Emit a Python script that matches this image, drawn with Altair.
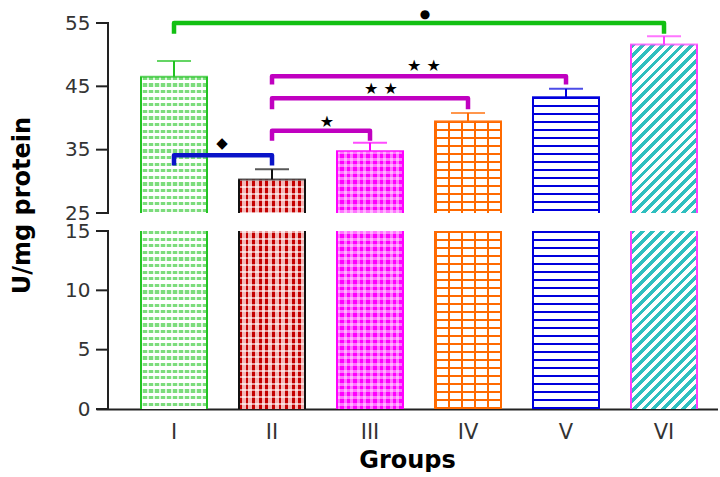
import math
import altair as alt
import pandas as pd

# ---- data -------------------------------------------------------------
groups = ["I", "II", "III", "IV", "V", "VI"]
means = [46.5, 30.3, 34.8, 39.5, 43.3, 51.6]
sds = [2.5, 1.6, 1.3, 1.3, 1.3, 1.3]

up_ticks = [25, 35, 45, 55]
lo_ticks = [0, 5, 10, 15]

# significance brackets between groups
br_from = ["I", "I", "II", "II", "II"]
br_to = ["VI", "II", "III", "IV", "V"]
br_level = [55.0, 34.1, 38.0, 43.1, 46.6]
br_leg = [53.3, 32.5, 36.4, 41.4, 45.3]
br_mark = ["●", "◆", "★", "★  ★", "★  ★"]
br_mark_y = [56.4, 36.0, 39.3, 44.6, 48.2]

# ---- styles -----------------------------------------------------------
stroke_colors = ["#22c322", "#111111", "#ff00ff", "#ff6a00", "#0000dd", "#ff3cff"]
bracket_colors = ["#12c012", "#0a14c8", "#c000c0", "#c000c0", "#c000c0"]
mark_sizes = [12, 15, 16, 16, 16]
mark_dx = [6, -1, 6, 11, 5]
AXIS_COLOR = "#222"

CLEAR = "rgba(255,255,255,0)"
# hatch layers per bar: (direction, line colour, gap colour, period px, line px)
patterns = [
    [("h", "#7cdc7c", "#ffffff", 6.6, 3.2), ("v", "rgba(255,255,255,0.75)", CLEAR, 6.0, 1.8)],
    [("v", "#c40000", "#f3b6b6", 6.6, 2.8), ("h", "rgba(255,255,255,0.6)", CLEAR, 6.6, 2.0)],
    [("h", "#ff00ff", "#ff00ff", 6.6, 3.3), ("v", "rgba(255,255,255,0.45)", CLEAR, 6.6, 3.0),
     ("h", "rgba(255,255,255,0.45)", CLEAR, 6.6, 3.0)],
    [("h", "#ff6a00", "#ffffff", 8.0, 2.0), ("v", "#ff6a00", CLEAR, 13.0, 2.0)],
    [("h", "#0000dd", "#ffffff", 8.0, 2.0)],
    [("d", "#2fbfbf", "#ffffff", 7.0, 3.4)],
]

FONT = "DejaVu Sans"
W_PLOT, H_UP, H_LO = 622, 190, 178
UP_MIN, UP_MAX, LO_MAX = 25, 55, 15
P_IN, P_OUT, ALIGN = 0.3265, 0.3367, 0.682
TICK_LEN = 12          # ticks run from the panel edge to the axis line

step = W_PLOT / (len(groups) - P_IN + 2 * P_OUT)
bandwidth = step * (1 - P_IN)

x_scale = alt.Scale(domain=groups, paddingInner=P_IN, paddingOuter=P_OUT, align=ALIGN)
up_scale = alt.Scale(domain=[UP_MIN, UP_MAX], nice=False, zero=False)
lo_scale = alt.Scale(domain=[0, LO_MAX], nice=False)

# the y axes supply only labels and title; the axis line and ticks are drawn as marks
AX = dict(domain=False, ticks=False, tickSize=0, labelFont=FONT, labelFontSize=20,
          labelColor="#333", labelPadding=6, grid=False)

up_axis = alt.Axis(values=up_ticks, title="U/mg protein", titleAngle=270,
                   titleX=-67, titleY=182, titleAlign="center", titleBaseline="alphabetic",
                   titleFont=FONT, titleFontSize=24, titleFontWeight="bold", titleColor="#000", **AX)
lo_axis = alt.Axis(values=lo_ticks, title=None, **AX)
lo_x_axis = alt.Axis(labelAngle=0, domain=True, ticks=False, domainColor=AXIS_COLOR, domainWidth=2,
                     labelFont=FONT, labelFontSize=21, labelColor="#333", labelPadding=12,
                     title="Groups", titleFont=FONT, titleFontSize=24, titleFontWeight="bold",
                     titlePadding=6, titleColor="#000", grid=False)


def band_stops(color, gap, period, thick, length):
    stops = []
    pos = 0.0
    while pos < length:
        a = pos / length
        b = min(pos + thick, length) / length
        c = min(pos + period, length) / length
        for off, col in ((a, color), (b, color), (b, gap), (c, gap)):
            stops.append(alt.GradientStop(offset=round(off, 5), color=col))
        pos += period
    return stops


def pattern_fill(kind, color, gap, period, thick, w, h):
    if kind == "h":
        return alt.LinearGradient(gradient="linear", stops=band_stops(color, gap, period, thick, h),
                                  x1=0, y1=0, x2=0, y2=1)
    if kind == "v":
        return alt.LinearGradient(gradient="linear", stops=band_stops(color, gap, period, thick, w),
                                  x1=0, y1=0, x2=1, y2=0)
    # diagonal "/" hatching at 45 degrees
    length = (w * w + h * h) / (w * math.sqrt(2))
    return alt.LinearGradient(gradient="linear", stops=band_stops(color, gap, period, thick, length),
                              x1=0, y1=0, x2=1, y2=round(h / w, 5))


def bar_layers(i, y_scale, base, cap, ppu, y_axis, x_axis, top_edge):
    """Hatched bar segment between the panel floor and min(mean, panel ceiling).

    The outline is drawn as side rules (plus a cap on the real top) so the segment
    stays open where the axis is broken.
    """
    top = min(means[i], cap)
    df = pd.DataFrame({"group": [groups[i]], "mean": [means[i]], "top": [top]})
    h = (top - base) * ppu
    layers = []
    first = True
    for kind, col, gap, period, thick in patterns[i]:
        enc = dict(
            x=alt.X("group:N", scale=x_scale, axis=x_axis if first else None),
            y=alt.Y("top:Q", scale=y_scale, axis=y_axis if first else None),
            y2=alt.datum(base),
        )
        first = False
        fill = pattern_fill(kind, col, gap, period, thick, bandwidth, h)
        layers.append(alt.Chart(df).mark_bar(fill=fill, strokeWidth=0).encode(**enc))
    for side in (0, 1):
        layers.append(alt.Chart(df).mark_rule(color=stroke_colors[i], strokeWidth=2).encode(
            x=alt.X("group:N", scale=x_scale, axis=None, bandPosition=side),
            y=alt.Y("top:Q", scale=y_scale, axis=None), y2=alt.datum(base)))
    if top_edge:
        layers.append(alt.Chart(df).mark_tick(color=stroke_colors[i], size=bandwidth + 2,
                                              thickness=2).encode(
            x=alt.X("group:N", scale=x_scale, axis=None),
            y=alt.Y("mean:Q", scale=y_scale, axis=None)))
    return layers


def axis_frame(ticks, y_scale):
    """Vertical axis line and its tick marks, set just inside the panel's left edge."""
    line = alt.Chart(pd.DataFrame({"lo": [min(ticks)], "hi": [max(ticks)]})).mark_rule(
        color=AXIS_COLOR, strokeWidth=2).encode(
        x=alt.value(TICK_LEN), y=alt.Y("lo:Q", scale=y_scale, axis=None), y2="hi:Q")
    marks = alt.Chart(pd.DataFrame({"v": ticks})).mark_rule(
        color=AXIS_COLOR, strokeWidth=2).encode(
        x=alt.value(0), x2=alt.value(TICK_LEN + 1), y=alt.Y("v:Q", scale=y_scale, axis=None))
    return [line, marks]


# ---- upper panel (25-55) ---------------------------------------------
upper_layers = []
for i in range(len(groups)):
    upper_layers += bar_layers(i, up_scale, UP_MIN, UP_MAX, H_UP / (UP_MAX - UP_MIN),
                               up_axis if i == 0 else None, None, True)
upper_layers += axis_frame(up_ticks, up_scale)

err = pd.DataFrame({"group": groups, "mean": means,
                    "hi": [m + s for m, s in zip(means, sds)], "c": stroke_colors})
upper_layers.append(alt.Chart(err).mark_rule(strokeWidth=2).encode(
    x=alt.X("group:N", scale=x_scale, axis=None),
    y=alt.Y("mean:Q", scale=up_scale, axis=None), y2="hi:Q",
    color=alt.Color("c:N", scale=None)))
upper_layers.append(alt.Chart(err).mark_tick(size=34, thickness=2).encode(
    x=alt.X("group:N", scale=x_scale, axis=None),
    y=alt.Y("hi:Q", scale=up_scale, axis=None),
    color=alt.Color("c:N", scale=None)))

rows = []
for k in range(len(br_from)):
    pts = [(br_from[k], br_leg[k]), (br_from[k], br_level[k]), (br_to[k], br_level[k]), (br_to[k], br_leg[k])]
    for o, (g, v) in enumerate(pts):
        rows.append({"bracket": k, "group": g, "value": v, "order": o, "c": bracket_colors[k]})
brackets = pd.DataFrame(rows)
upper_layers.append(alt.Chart(brackets).mark_line(strokeWidth=4.5, strokeJoin="round").encode(
    x=alt.X("group:N", scale=x_scale, axis=None),
    y=alt.Y("value:Q", scale=up_scale, axis=None),
    detail="bracket:N", order="order:Q",
    color=alt.Color("c:N", scale=None)))

# significance marks sit over the middle of each bracket
for k in range(len(br_from)):
    span = groups.index(br_to[k]) - groups.index(br_from[k])
    lab = pd.DataFrame({"group": [br_from[k]], "y": [br_mark_y[k]], "t": [br_mark[k]]})
    upper_layers.append(alt.Chart(lab).mark_text(font=FONT, fontSize=mark_sizes[k], color="#000",
                                                 dx=span * step / 2 + mark_dx[k]).encode(
        x=alt.X("group:N", scale=x_scale, axis=None),
        y=alt.Y("y:Q", scale=up_scale, axis=None),
        text="t:N"))

upper = alt.layer(*upper_layers).resolve_axis(x="independent", y="independent").properties(
    width=W_PLOT, height=H_UP)

# ---- lower panel (0-15) ----------------------------------------------
lower_layers = []
for i in range(len(groups)):
    lower_layers += bar_layers(i, lo_scale, 0, LO_MAX, H_LO / LO_MAX,
                               lo_axis if i == 0 else None, lo_x_axis if i == 0 else None, False)
lower_layers += axis_frame(lo_ticks, lo_scale)
lower = alt.layer(*lower_layers).resolve_axis(x="independent", y="independent").properties(
    width=W_PLOT, height=H_LO)

chart = alt.vconcat(upper, lower, spacing=18, bounds="flush").properties(
    padding={"left": 10, "top": 8, "right": 0, "bottom": 0}
).configure_view(stroke=None)

chart.save("out.html", embed_options={"renderer": "svg", "actions": False})
